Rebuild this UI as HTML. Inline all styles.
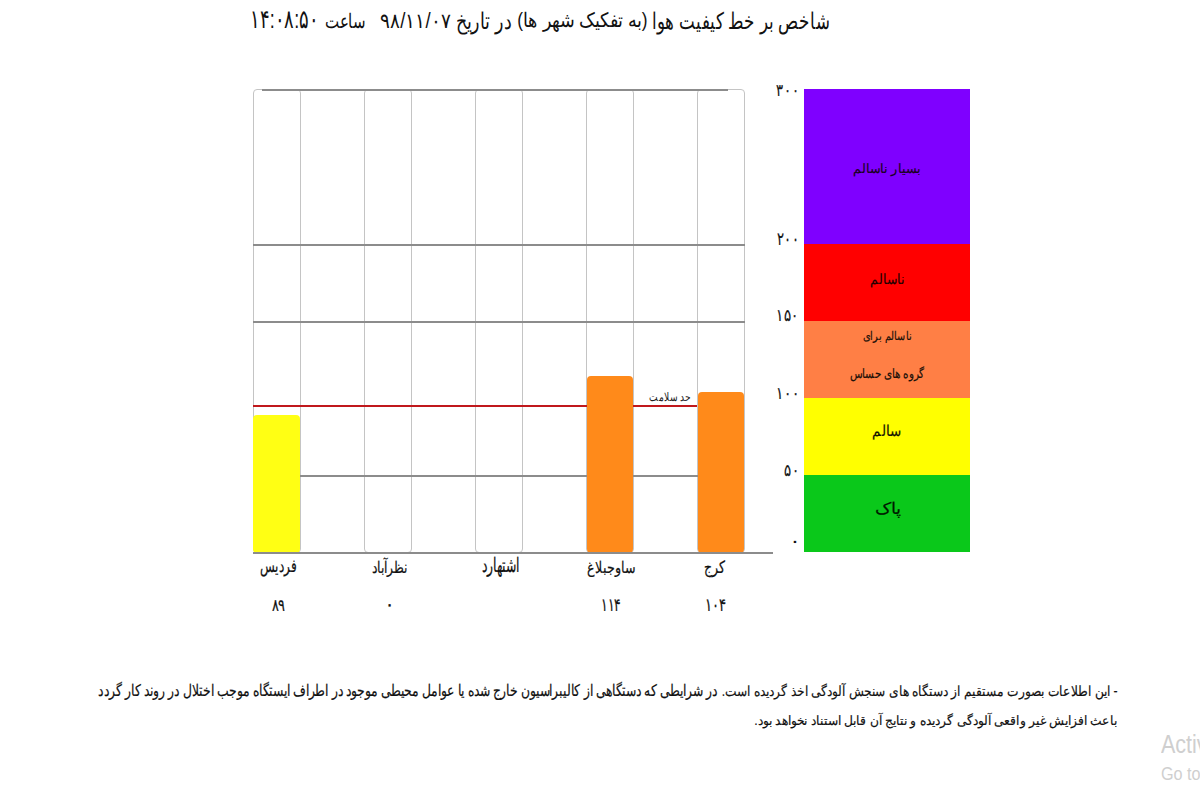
<!DOCTYPE html>
<html lang="fa"><head><meta charset="utf-8">
<style>
html,body{margin:0;padding:0;background:#fff;width:1200px;height:800px;overflow:hidden;}
body{position:relative;font-family:"Liberation Sans",sans-serif;color:#111;}
.a{position:absolute;}
.t{position:absolute;white-space:nowrap;direction:rtl;line-height:1;}
.col{position:absolute;top:89px;height:464px;border:1px solid #c4c4c4;border-radius:4px;box-sizing:border-box;}
.hl{position:absolute;height:2px;background:#8c8c8c;}
.bar{position:absolute;border-radius:4px;}
.lg{position:absolute;left:804px;width:166px;}
</style></head><body>
<div class="col" style="left:253px;width:48px"></div>
<div class="col" style="left:364px;width:48px"></div>
<div class="col" style="left:475px;width:48px"></div>
<div class="col" style="left:586px;width:48px"></div>
<div class="col" style="left:697px;width:48px"></div>
<div class="hl" style="left:262px;width:466px;top:89px;"></div>
<div class="hl" style="left:253px;width:492px;top:244px;"></div>
<div class="hl" style="left:253px;width:492px;top:321px;"></div>
<div class="hl" style="left:254px;width:490px;top:475px;"></div>
<div class="a" style="left:253px;width:444px;top:405px;height:2px;background:#c0181c"></div>
<div class="bar" style="left:253px;width:47px;top:415px;height:138px;background:#ffff14"></div>
<div class="bar" style="left:587px;width:46px;top:376px;height:177px;background:#ff8a1a"></div>
<div class="bar" style="left:698px;width:46px;top:392px;height:161px;background:#ff8a1a"></div>
<div class="hl" style="left:253px;width:520px;top:552px;"></div>
<div class="lg" style="top:89px;height:155px;background:#7f00ff"></div>
<div class="lg" style="top:244px;height:77px;background:#ff0000"></div>
<div class="lg" style="top:321px;height:77px;background:#ff7f45"></div>
<div class="lg" style="top:398px;height:77px;background:#ffff00"></div>
<div class="lg" style="top:475px;height:77px;background:#0ac81a"></div>
<div class="a" style="left:1161px;top:729.5px;font-size:25px;color:#cfcfcf;white-space:nowrap;transform:scaleX(0.86);transform-origin:0 0">Activate Windows</div>
<div class="a" style="left:1161px;top:764px;font-size:18px;color:#cfcfcf;white-space:nowrap;transform:scaleX(0.9);transform-origin:0 0">Go to Settings to activate Windows.</div>
<div class="t" style="left:20px;top:100px;font-size:22px;color:#111;transform-origin:2.00px 1.00px;transform:translate(631.80px,-90.50px) scale(0.7721,1.0652);">شاخص بر خط کیفیت هوا</div>
<div class="t" style="left:20px;top:100px;font-size:22px;color:#111;transform-origin:1.00px 1.00px;transform:translate(497.00px,-89.50px) scale(0.7854,0.8913);">(به تفکیک شهر ها)</div>
<div class="t" style="left:20px;top:100px;font-size:22px;color:#111;transform-origin:1.00px 1.00px;transform:translate(435.30px,-89.30px) scale(0.7884,1.0348);">در تاریخ</div>
<div class="t" style="left:20px;top:100px;font-size:22px;color:#111;transform-origin:1.00px 2.00px;transform:translate(359.70px,-89.70px) scale(0.8451,0.9625);">۹۸/۱۱/۰۷</div>
<div class="t" style="left:20px;top:100px;font-size:22px;color:#111;transform-origin:1.00px 1.00px;transform:translate(304.30px,-88.70px) scale(0.6793,0.9059);">ساعت</div>
<div class="t" style="left:20px;top:100px;font-size:22px;color:#111;transform-origin:3.00px 4.00px;transform:translate(229.50px,-92.30px) scale(0.8171,1.1857);">۱۴:۰۸:۵۰</div>
<div class="t" style="left:20px;top:100px;font-size:11px;color:#222;transform-origin:1.00px 1.00px;transform:translate(629.00px,291.00px) scale(0.8511,1.1250);">حد سلامت</div>
<div class="t" style="left:20px;top:100px;font-size:16px;color:#111;-webkit-text-stroke:0.2px #111;transform-origin:1.00px 2.00px;transform:translate(240.00px,458.00px) scale(0.7609,1.1333);">فردیس</div>
<div class="t" style="left:20px;top:100px;font-size:16px;color:#111;-webkit-text-stroke:0.2px #111;transform-origin:1.00px -3.00px;transform:translate(351.60px,460.00px) scale(0.7711,1.0000);">نظرآباد</div>
<div class="t" style="left:20px;top:100px;font-size:16px;color:#111;-webkit-text-stroke:0.2px #111;transform-origin:1.00px 0.00px;transform:translate(461.40px,456.00px) scale(0.7660,1.2353);">اشتهارد</div>
<div class="t" style="left:20px;top:100px;font-size:16px;color:#111;-webkit-text-stroke:0.2px #111;transform-origin:1.00px 0.00px;transform:translate(567.00px,460.00px) scale(0.7900,1.0000);">ساوجبلاغ</div>
<div class="t" style="left:20px;top:100px;font-size:16px;color:#111;-webkit-text-stroke:0.2px #111;transform-origin:1.00px 1.00px;transform:translate(684.00px,459.00px) scale(0.7846,1.0625);">کرج</div>
<div class="t" style="left:20px;top:100px;font-size:15px;color:#111;-webkit-text-stroke:0.2px #111;transform-origin:0.00px 3.00px;transform:translate(251.70px,496.50px) scale(0.8313,1.1000);">۸۹</div>
<div class="t" style="left:20px;top:100px;font-size:15px;color:#111;transform-origin:3.00px 8.00px;transform:translate(365.30px,496.75px) scale(1.3500,1.3000);">۰</div>
<div class="t" style="left:20px;top:100px;font-size:15px;color:#111;-webkit-text-stroke:0.2px #111;transform-origin:2.00px 3.00px;transform:translate(580.60px,496.00px) scale(0.8227,1.2000);">۱۱۴</div>
<div class="t" style="left:20px;top:100px;font-size:15px;color:#111;-webkit-text-stroke:0.2px #111;transform-origin:2.00px 3.00px;transform:translate(685.00px,496.00px) scale(0.8773,1.2000);">۱۰۴</div>
<div class="t" style="left:20px;top:100px;font-size:16px;color:#1a0020;-webkit-text-stroke:0.2px #1a0020;transform-origin:1.00px 0.00px;transform:translate(832.60px,62.00px) scale(0.8098,0.8235);">بسیار ناسالم</div>
<div class="t" style="left:20px;top:100px;font-size:16px;color:#200000;-webkit-text-stroke:0.2px #200000;transform-origin:1.00px 0.00px;transform:translate(850.00px,173.00px) scale(0.7857,0.8824);">ناسالم</div>
<div class="t" style="left:20px;top:100px;font-size:13px;color:#201008;-webkit-text-stroke:0.2px #201008;transform-origin:0.00px 1.00px;transform:translate(842.80px,229.50px) scale(0.7594,0.9357);">ناسالم برای</div>
<div class="t" style="left:20px;top:100px;font-size:13px;color:#201008;-webkit-text-stroke:0.2px #201008;transform-origin:0.00px -1.00px;transform:translate(829.70px,267.00px) scale(0.7874,0.9812);">گروه های حساس</div>
<div class="t" style="left:20px;top:100px;font-size:16px;color:#141400;-webkit-text-stroke:0.2px #141400;transform-origin:1.00px 0.00px;transform:translate(852.30px,323.70px) scale(0.8364,0.9294);">سالم</div>
<div class="t" style="left:20px;top:100px;font-size:16px;color:#001a00;-webkit-text-stroke:0.2px #001a00;transform-origin:1.00px 0.00px;transform:translate(855.00px,401.00px) scale(1.1364,1.0000);">پاک</div>
<div class="t" style="left:20px;top:100px;font-size:14px;color:#111;-webkit-text-stroke:0.15px #111;transform-origin:0.00px 3.00px;transform:translate(756.40px,-18.00px) scale(0.9476,1.2222);">۳۰۰</div>
<div class="t" style="left:20px;top:100px;font-size:14px;color:#111;-webkit-text-stroke:0.15px #111;transform-origin:0.00px 3.00px;transform:translate(756.60px,130.05px) scale(0.9429,1.3000);">۲۰۰</div>
<div class="t" style="left:20px;top:100px;font-size:14px;color:#111;-webkit-text-stroke:0.15px #111;transform-origin:2.00px 3.00px;transform:translate(756.00px,207.50px) scale(0.9632,1.2222);">۱۵۰</div>
<div class="t" style="left:20px;top:100px;font-size:14px;color:#111;-webkit-text-stroke:0.15px #111;transform-origin:2.00px 3.00px;transform:translate(756.00px,284.80px) scale(0.9737,1.2222);">۱۰۰</div>
<div class="t" style="left:20px;top:100px;font-size:14px;color:#111;-webkit-text-stroke:0.15px #111;transform-origin:0.00px 3.00px;transform:translate(764.00px,361.90px) scale(0.9615,1.2333);">۵۰</div>
<div class="t" style="left:20px;top:100px;font-size:14px;color:#111;transform-origin:3.00px 7.00px;transform:translate(770.30px,433.15px) scale(1.6000,1.3000);">۰</div>
<div class="t" style="left:20px;top:100px;font-size:16px;color:#111;-webkit-text-stroke:0.2px #111;transform-origin:1.00px -3.00px;transform:translate(701.50px,585.20px) scale(0.7640,0.8750);">- این اطلاعات بصورت مستقیم از دستگاه های سنجش آلودگی اخذ گردیده است.</div>
<div class="t" style="left:20px;top:100px;font-size:16px;color:#111;-webkit-text-stroke:0.2px #111;transform-origin:1.00px -1.00px;transform:translate(78.00px,583.20px) scale(0.7512,0.9722);">در شرایطی که دستگاهی از کالیبراسیون خارج شده یا عوامل محیطی موجود در اطراف ایستگاه موجب اختلال در روند کار گردد</div>
<div class="t" style="left:20px;top:100px;font-size:16px;color:#111;-webkit-text-stroke:0.2px #111;transform-origin:1.00px -3.00px;transform:translate(733.90px,615.40px) scale(0.7639,0.8100);">باعث افزایش غیر واقعی آلودگی گردیده و نتایج آن قابل استناد نخواهد بود.</div>
</body></html>
